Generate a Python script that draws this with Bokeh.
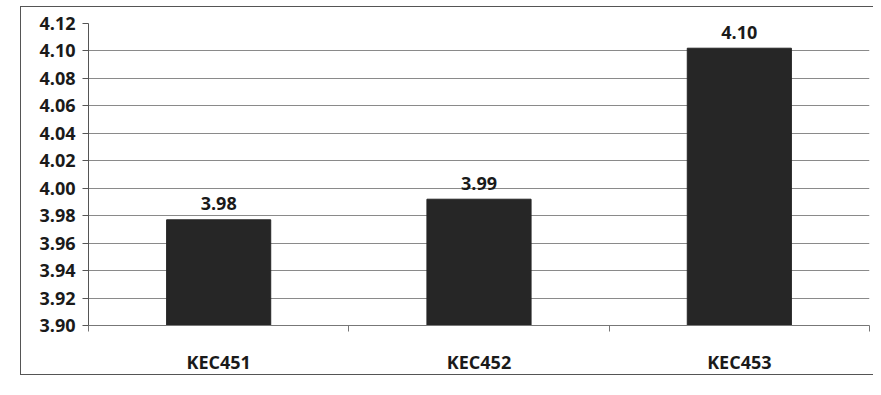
from bokeh.plotting import figure
from bokeh.models import ColumnDataSource, FixedTicker, Range1d, PrintfTickFormatter
from bokeh.core.properties import value
from bokeh.embed import file_html
from bokeh.resources import INLINE

# Data
categories = ["KEC451", "KEC452", "KEC453"]
scores = [3.977, 3.992, 4.102]
y_ticks = [3.90, 3.92, 3.94, 3.96, 3.98, 4.00, 4.02, 4.04, 4.06, 4.08, 4.10, 4.12]

FONT = value("Open Sans")
TEXT = "#1a1a1a"
BAR = "#262626"

x_centers = [i + 0.5 for i in range(len(categories))]
boundaries = [float(i) for i in range(len(categories) + 1)]

src = ColumnDataSource(dict(
    x=x_centers,
    top=scores,
    label=[f"{v:.2f}" for v in scores],
))

p = figure(
    width=853, height=369,
    x_range=Range1d(0, len(categories)),
    y_range=Range1d(y_ticks[0], y_ticks[-1]),
    output_backend="svg", toolbar_location=None,
    min_border_left=67, min_border_right=5,
    min_border_top=16, min_border_bottom=51,
    background_fill_color="white", border_fill_color="white",
)
p.outline_line_color = None
p.styles = {
    "border-top": "1px solid #555",
    "border-left": "1px solid #555",
    "border-bottom": "1px solid #555",
    "margin-left": "20px",
    "margin-top": "6px",
}

p.vbar(x="x", top="top", bottom=y_ticks[0], width=0.4, source=src,
       fill_color=BAR, line_color=BAR)

p.text(x="x", y="top", text="label", source=src,
       text_align="center", text_baseline="alphabetic", y_offset=-16,
       text_font=FONT, text_font_style="bold", text_font_size="18px",
       text_color=TEXT)

# Y axis
p.yaxis.ticker = FixedTicker(ticks=y_ticks)
p.yaxis.formatter = PrintfTickFormatter(format="%.2f")
p.yaxis.major_label_text_font = "Open Sans"
p.yaxis.major_label_text_font_style = "bold"
p.yaxis.major_label_text_font_size = "18px"
p.yaxis.major_label_text_color = TEXT
p.yaxis.axis_line_color = "#555555"
p.yaxis.major_tick_line_color = "#555555"
p.yaxis.major_tick_out = 6
p.yaxis.major_tick_in = 0
p.yaxis.minor_tick_line_color = None
p.yaxis.major_label_standoff = 7

# X axis: labels at centres, tick marks at category boundaries
p.xaxis.ticker = FixedTicker(ticks=x_centers, minor_ticks=boundaries)
p.xaxis.major_label_overrides = {x: c for x, c in zip(x_centers, categories)}
p.xaxis.major_label_text_font = "Open Sans"
p.xaxis.major_label_text_font_style = "bold"
p.xaxis.major_label_text_font_size = "18px"
p.xaxis.major_label_text_color = TEXT
p.xaxis.axis_line_color = "#777777"
p.xaxis.major_tick_line_color = None
p.xaxis.major_tick_out = 0
p.xaxis.major_tick_in = 0
p.xaxis.minor_tick_line_color = "#777777"
p.xaxis.minor_tick_out = 6
p.xaxis.minor_tick_in = 0
p.xaxis.major_label_standoff = 18

p.xgrid.visible = False
p.ygrid.ticker = FixedTicker(ticks=y_ticks)
p.ygrid.grid_line_color = "#8a8a8a"
p.ygrid.grid_line_width = 1

open("out.html", "w").write(file_html(p, INLINE))
